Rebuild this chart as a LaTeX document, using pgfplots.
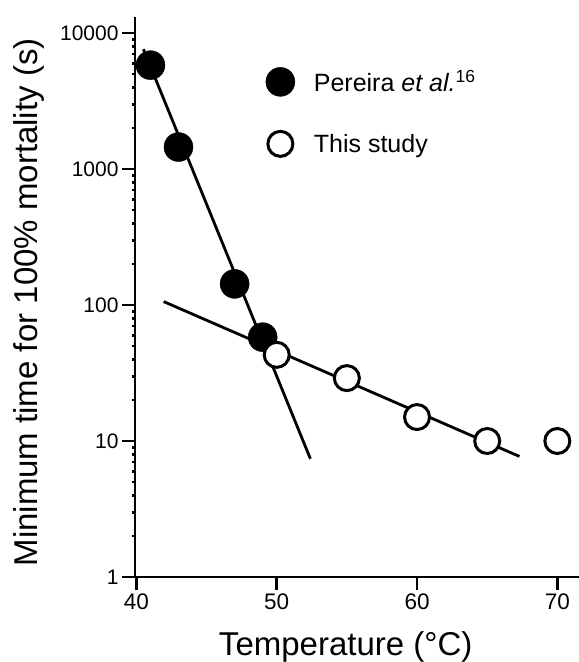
\documentclass[border=0pt]{standalone}
\usepackage{fontspec}
\setmainfont{Liberation Sans}
\usepackage{pgfplots}
\pgfplotsset{compat=1.18}
\newcommand\xt[1]{\hbox{\fontsize{22.5bp}{27bp}\selectfont #1}}
\newcommand\yt[1]{\hbox{\fontsize{21bp}{25bp}\selectfont #1}}

\begin{document}
\begin{tikzpicture}
\useasboundingbox (0,0) rectangle (579bp,662bp);
\begin{axis}[
    at={(135bp,85bp)}, anchor=south west,
    scale only axis,
    width=444.8bp, height=560.5bp,
    ymode=log,
    xmin=39.9, xmax=71.6,
    ymin=1, ymax=13220,
    axis x line=bottom, axis y line=left,
    every outer x axis line/.append style={-, line width=2.8bp},
    every outer y axis line/.append style={-, line width=2.8bp},
    tick align=outside,
    major tick length=13bp,
    tick style={line width=2.8bp, black},
    major tick style={line width=2.8bp, black},
    minor tick num=0,
    xtick={40,50,60,70}, xticklabels={\xt{40},\xt{50},\xt{60},\xt{70}},
    ytick={1,10,100,1000,10000}, yticklabels={\yt{1},\yt{10},\yt{100},\yt{1000},\yt{10000}},
    xlabel={Temperature (°C)},
    ylabel={Minimum time for 100\% mortality (s)},
    label style={font=\fontsize{33bp}{38bp}\selectfont},
    xlabel style={at={(axis description cs:0.4737,-0.1392)}, anchor=base},
    ylabel style={at={(axis description cs:-0.2203,0.0125)}, anchor=base west, rotate=0},
    clip=false,
    legend style={draw=none, fill=none, at={(axis cs:49.0,5800)}, anchor=north west,
        font=\fontsize{25bp}{30bp}\selectfont, row sep=35bp, column sep=17bp},
    legend cell align=left,
]
% fitted lines
\addplot[black, line width=2.8bp, forget plot] coordinates {(40.5,7600) (52.4,7.4)};
\addplot[black, line width=2.8bp, forget plot] coordinates {(41.94,106) (67.3,7.7)};
% Pereira et al.
\addplot[only marks, mark=*, mark size=14.5bp, draw=none, fill=black, mark options={draw=none, fill=black}]
    coordinates {(41,5800) (43,1450) (47,143) (49,58)};
\addlegendentry{Pereira \textit{et al.}\textsuperscript{16}}
% This study
\addplot[only marks, mark=*, mark size=12.5bp, mark options={draw=black, fill=white, line width=3bp}]
    coordinates {(50,43) (55,29) (60,15) (65,10) (70,10)};
\addlegendentry{This study}
\end{axis}
\end{tikzpicture}
\end{document}
